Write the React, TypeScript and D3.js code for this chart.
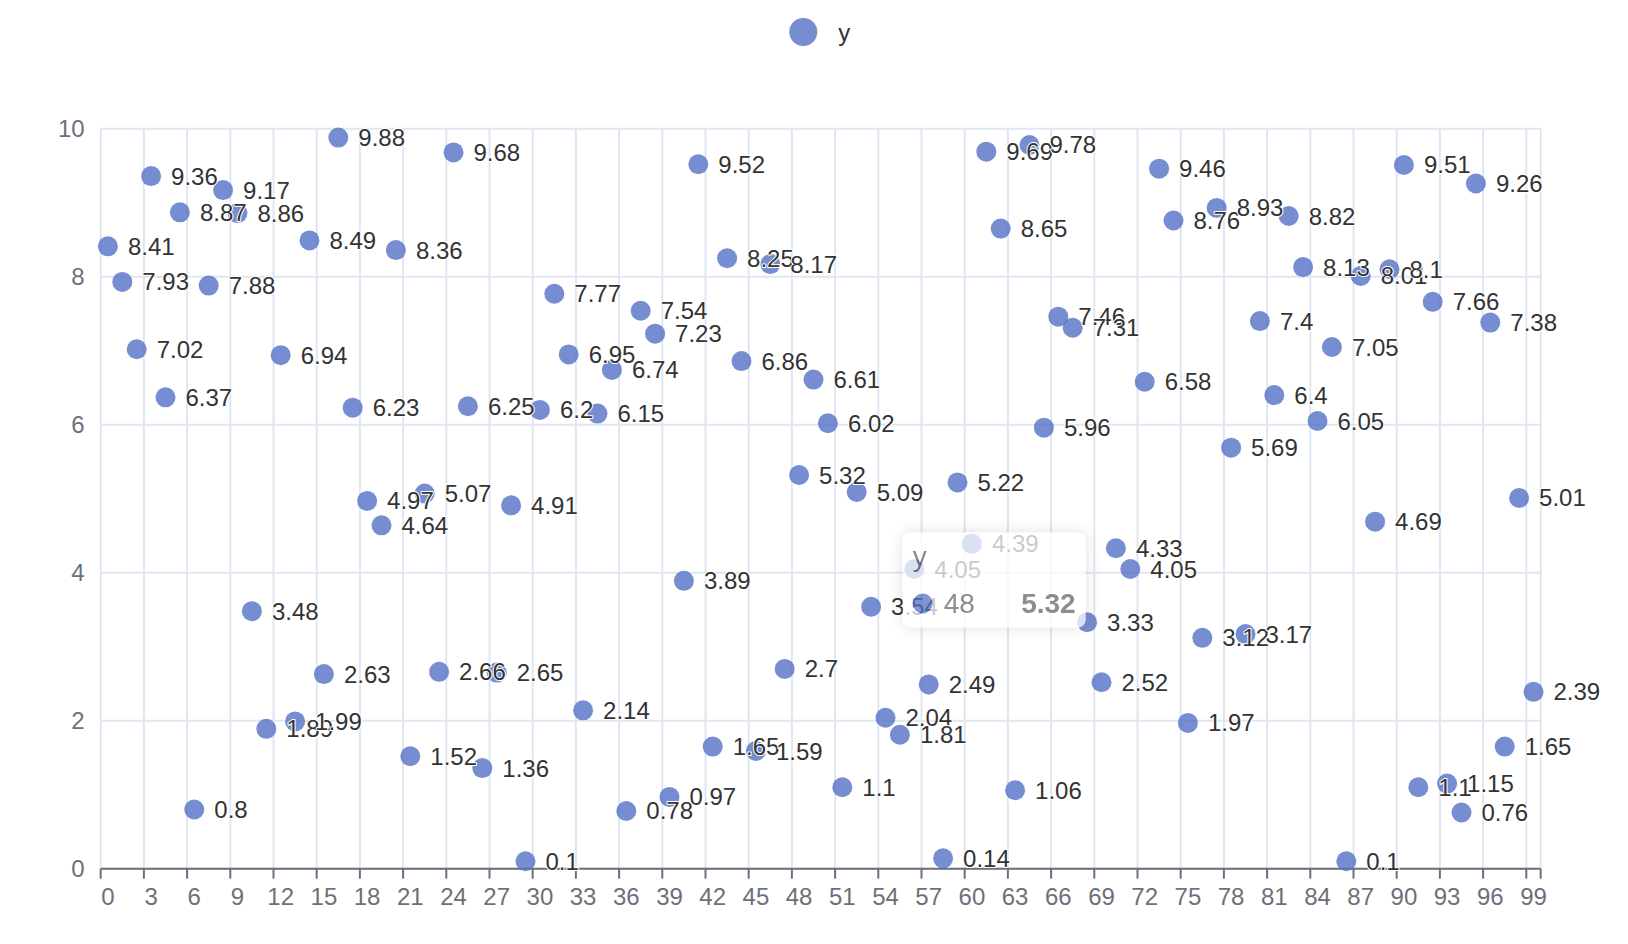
import React from "react";
import * as d3 from "d3";

// ---- data ----
const categories: string[] = [
  "0","1","2","3","4","5","6","7","8","9","10","11","12","13","14","15","16","17","18","19",
  "20","21","22","23","24","25","26","27","28","29","30","31","32","33","34","35","36","37","38","39",
  "40","41","42","43","44","45","46","47","48","49","50","51","52","53","54","55","56","57","58","59",
  "60","61","62","63","64","65","66","67","68","69","70","71","72","73","74","75","76","77","78","79",
  "80","81","82","83","84","85","86","87","88","89","90","91","92","93","94","95","96","97","98","99",
];

const values: number[] = [
  8.41, 7.93, 7.02, 9.36, 6.37, 8.87, 0.8, 7.88, 9.17, 8.86,
  3.48, 1.89, 6.94, 1.99, 8.49, 2.63, 9.88, 6.23, 4.97, 4.64,
  8.36, 1.52, 5.07, 2.66, 9.68, 6.25, 1.36, 2.65, 4.91, 0.1,
  6.2, 7.77, 6.95, 2.14, 6.15, 6.74, 0.78, 7.54, 7.23, 0.97,
  3.89, 9.52, 1.65, 8.25, 6.86, 1.59, 8.17, 2.7, 5.32, 6.61,
  6.02, 1.1, 5.09, 3.54, 2.04, 1.81, 4.05, 2.49, 0.14, 5.22,
  4.39, 9.69, 8.65, 1.06, 9.78, 5.96, 7.46, 7.31, 3.33, 2.52,
  4.33, 4.05, 6.58, 9.46, 8.76, 1.97, 3.12, 8.93, 5.69, 3.17,
  7.4, 6.4, 8.82, 8.13, 6.05, 7.05, 0.1, 8.01, 4.69, 8.1,
  9.51, 1.1, 7.66, 1.15, 0.76, 9.26, 7.38, 1.65, 5.01, 2.39,
];

const seriesName = "y";
const xTickLabels: string[] = [
  "0","3","6","9","12","15","18","21","24","27","30","33","36","39","42","45","48",
  "51","54","57","60","63","66","69","72","75","78","81","84","87","90","93","96","99",
];
const yTicks: number[] = [0, 2, 4, 6, 8, 10];
const tooltipIndex = 48;

// ---- layout / style ----
const W = 1628;
const H = 944;
const LEFT = 100.7;
const RIGHT = 1540.7;
const TOP = 128.7;
const BOTTOM = 868.7;
const FONT = "'Liberation Sans', Arial, Helvetica, sans-serif";
const COLOR = "#5470c6";
const GRID = "#E0E6F1";
const AXIS = "#6E7079";

export default function App() {
  const x = d3
    .scaleBand<string>()
    .domain(categories)
    .range([LEFT, RIGHT])
    .paddingInner(0)
    .paddingOuter(0);
  const y = d3.scaleLinear().domain([0, 10]).range([BOTTOM, TOP]);
  const bw = x.bandwidth();
  const cx = (c: string) => (x(c) as number) + bw / 2;

  // split lines / ticks at band boundaries of labelled categories, plus the axis end
  const boundaries = [...xTickLabels.map((c) => x(c) as number), RIGHT];

  const tip = { x: 902.7, y: 532.5, w: 183, h: 95 };

  return (
    <div style={{ position: "fixed", left: 0, top: 0, width: W, height: H, background: "#fff" }}>
      <svg width={W} height={H} style={{ display: "block" }} fontFamily={FONT}>
        <defs>
          <filter id="tipShadow" x="-20%" y="-30%" width="140%" height="160%">
            <feDropShadow dx="0" dy="0" stdDeviation="8" floodColor="#000" floodOpacity="0.18" />
          </filter>
        </defs>

        {/* legend */}
        <g>
          <circle cx={803.3} cy={32} r={14} fill={COLOR} fillOpacity={0.8} />
          <text x={838.3} y={32} dominantBaseline="central" fontSize={24} fill="#333">
            {seriesName}
          </text>
        </g>

        {/* horizontal split lines */}
        {yTicks.map((t) => (
          <line key={"h" + t} x1={LEFT} x2={RIGHT} y1={y(t)} y2={y(t)} stroke={GRID} strokeWidth={2} />
        ))}
        {/* vertical split lines */}
        {boundaries.map((bx, i) => (
          <line key={"v" + i} x1={bx} x2={bx} y1={TOP} y2={BOTTOM} stroke={GRID} strokeWidth={2} />
        ))}

        {/* y axis labels */}
        {yTicks.map((t) => (
          <text
            key={"yl" + t}
            x={LEFT - 16}
            y={y(t)}
            textAnchor="end"
            dominantBaseline="central"
            fontSize={24}
            fill={AXIS}
          >
            {t}
          </text>
        ))}

        {/* x axis */}
        <line x1={LEFT} x2={RIGHT} y1={BOTTOM} y2={BOTTOM} stroke={AXIS} strokeWidth={2} />
        {boundaries.map((bx, i) => (
          <line key={"t" + i} x1={bx} x2={bx} y1={BOTTOM} y2={BOTTOM + 10} stroke={AXIS} strokeWidth={2} />
        ))}
        {xTickLabels.map((c) => (
          <text
            key={"xl" + c}
            x={cx(c)}
            y={BOTTOM + 28}
            textAnchor="middle"
            dominantBaseline="central"
            fontSize={24}
            fill={AXIS}
          >
            {c}
          </text>
        ))}

        {/* points */}
        {values.map((v, i) => (
          <circle key={"p" + i} cx={cx(categories[i])} cy={y(v)} r={10} fill={COLOR} fillOpacity={0.8} />
        ))}

        {/* labels */}
        {values.map((v, i) => (
          <text
            key={"l" + i}
            x={cx(categories[i]) + 20}
            y={y(v)}
            dominantBaseline="central"
            fontSize={24}
            fill="#333"
            stroke="#fff"
            strokeWidth={2}
            paintOrder="stroke"
            strokeLinejoin="round"
          >
            {v}
          </text>
        ))}

        {/* tooltip */}
        <g opacity={0.74}>
          <rect
            x={tip.x}
            y={tip.y}
            width={tip.w}
            height={tip.h}
            rx={8}
            ry={8}
            fill="#fff"
            filter="url(#tipShadow)"
          />
          <text x={tip.x + 10} y={tip.y + 33} fontSize={28} fill="#666">
            {seriesName}
          </text>
          <circle cx={tip.x + 20} cy={tip.y + 71} r={10} fill={COLOR} />
          <text x={tip.x + 41} y={tip.y + 71} dominantBaseline="central" fontSize={28} fill="#666">
            {categories[tooltipIndex]}
          </text>
          <text
            x={tip.x + tip.w - 10}
            y={tip.y + 71}
            dominantBaseline="central"
            textAnchor="end"
            fontSize={28}
            fontWeight="bold"
            fill="#666"
          >
            {values[tooltipIndex]}
          </text>
        </g>
      </svg>
    </div>
  );
}
